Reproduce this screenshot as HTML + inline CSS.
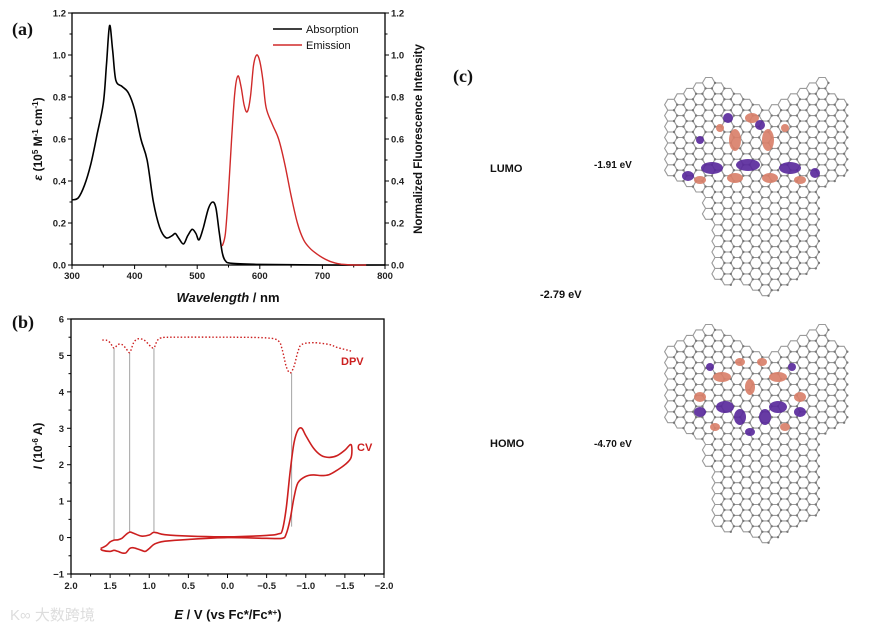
<!DOCTYPE html>
<html><head><meta charset="utf-8"><style>
body{margin:0;background:#fff;}
svg text{font-family:"Liberation Sans",Arial,sans-serif;}
svg text.serif{font-family:"Liberation Serif",serif;}
</style></head><body>
<svg id="fig" width="869" height="628" viewBox="0 0 869 628" xmlns="http://www.w3.org/2000/svg">
<g id="pa"></g>
<g id="pb"></g>
<g id="pc"></g>
<text x="10" y="620" font-size="15" fill="#ddd" style="font-family:'Liberation Sans','Noto Sans CJK SC',sans-serif">K∞ 大数跨境</text>
</svg>
<script>
// ---- panel a data ----
const absWl=[300,310,320,330,340,350,355,360,365,370,380,390,400,410,420,430,440,450,460,465,470,478,485,492,498,503,510,518,525,530,535,540,545,555,600,700,800];
const absVal=[0.31,0.32,0.38,0.48,0.62,0.77,0.95,1.14,1.02,0.88,0.85,0.82,0.74,0.60,0.50,0.30,0.18,0.13,0.14,0.15,0.13,0.10,0.14,0.17,0.15,0.12,0.18,0.27,0.30,0.27,0.16,0.06,0.02,0.008,0.003,0,0];
const emWl=[540,545,550,555,560,565,570,575,580,585,590,595,600,605,610,620,630,640,650,660,670,680,690,700,710,720,730,750,770];
const emVal=[0.09,0.15,0.35,0.60,0.82,0.90,0.85,0.76,0.73,0.80,0.95,1.0,0.97,0.88,0.75,0.67,0.60,0.48,0.33,0.20,0.12,0.08,0.055,0.035,0.02,0.01,0.004,0,0];
const aXTicks=[300,400,500,600,700,800];
const aYTicks=[0,0.2,0.4,0.6,0.8,1.0,1.2];
// ---- panel b data ----
const cvE=[1.62,1.55,1.5,1.45,1.4,1.35,1.3,1.25,1.2,1.1,1.0,0.95,0.9,0.8,0.5,0,-0.5,-0.65,-0.7,-0.75,-0.8,-0.85,-0.9,-0.95,-1.0,-1.1,-1.2,-1.3,-1.4,-1.5,-1.58,-1.58,-1.5,-1.4,-1.3,-1.2,-1.1,-1.0,-0.9,-0.85,-0.8,-0.75,-0.7,-0.5,0,0.5,0.8,0.9,0.95,1.0,1.05,1.1,1.2,1.25,1.3,1.35,1.4,1.45,1.5,1.6,1.62];
const cvI=[-0.3,-0.22,-0.12,-0.07,-0.06,-0.02,0.08,0.15,0.12,0.04,0.07,0.14,0.13,0.08,0.04,0.02,0.06,0.1,0.2,0.8,1.8,2.6,2.95,3.0,2.8,2.45,2.25,2.2,2.25,2.4,2.55,2.2,2.0,1.85,1.73,1.7,1.72,1.68,1.5,1.1,0.5,0.1,-0.02,-0.02,0,-0.05,-0.1,-0.15,-0.2,-0.3,-0.38,-0.35,-0.28,-0.3,-0.42,-0.42,-0.38,-0.35,-0.38,-0.35,-0.3];
const dpvE=[1.6,1.55,1.5,1.45,1.4,1.35,1.3,1.25,1.2,1.15,1.1,1.05,0.95,0.9,0.85,0.7,0,-0.5,-0.65,-0.7,-0.75,-0.8,-0.85,-0.9,-0.95,-1.1,-1.3,-1.4,-1.58];
const dpvI=[5.42,5.42,5.35,5.2,5.3,5.3,5.2,5.08,5.35,5.45,5.45,5.4,5.2,5.4,5.48,5.5,5.5,5.48,5.4,5.15,4.7,4.52,4.7,5.1,5.3,5.35,5.3,5.22,5.12];
const peakE=[1.45,1.25,0.94,-0.82];
const peakTop=[5.2,5.08,5.2,4.52];
const peakBot=[-0.07,0.15,0.14,0.3];
const bXTicks=[2.0,1.5,1.0,0.5,0.0,-0.5,-1.0,-1.5,-2.0];
const bYTicks=[-1,0,1,2,3,4,5,6];

const NS="http://www.w3.org/2000/svg";
function mk(p,t,a){const e=document.createElementNS(NS,t);for(const k in a)e.setAttribute(k,a[k]);p.appendChild(e);return e;}
function txt(p,x,y,s,a){const e=mk(p,'text',Object.assign({x:x,y:y},a));e.textContent=s;return e;}
function fmtNum(v,d){return (v<0?'−':'')+Math.abs(v).toFixed(d);}
function smooth(pts){let d='M'+pts[0][0].toFixed(1)+','+pts[0][1].toFixed(1);
 for(let i=0;i<pts.length-1;i++){const p0=pts[Math.max(0,i-1)],p1=pts[i],p2=pts[i+1],p3=pts[Math.min(pts.length-1,i+2)];
  const c1=[p1[0]+(p2[0]-p0[0])/6,p1[1]+(p2[1]-p0[1])/6],c2=[p2[0]-(p3[0]-p1[0])/6,p2[1]-(p3[1]-p1[1])/6];
  d+='C'+c1[0].toFixed(1)+','+c1[1].toFixed(1)+' '+c2[0].toFixed(1)+','+c2[1].toFixed(1)+' '+p2[0].toFixed(1)+','+p2[1].toFixed(1);}
 return d;}

// ===== Panel A =====
const A=document.getElementById('pa');
const ax0=72,ax1=385,ay0=265,ay1=13;
const axX=w=>ax0+(w-300)/500*(ax1-ax0);
const axY=v=>ay0-(v/1.2)*(ay0-ay1);
let r=mk(A,'rect',{x:ax0,y:ay1,width:ax1-ax0,height:ay0-ay1,fill:'none',stroke:'#000','stroke-width':1.3});

aXTicks.forEach((t,i)=>{const x=axX(t);mk(A,'line',{x1:x,x2:x,y1:ay0,y2:ay0+4,stroke:'#000'});
 if(i<aXTicks.length-1){const xm=axX(t+50);mk(A,'line',{x1:xm,x2:xm,y1:ay0,y2:ay0+2.5,stroke:'#000'});}
 const l=txt(A,x,ay0+14,String(t),{'font-size':9.5,'font-weight':'bold','text-anchor':'middle',fill:'#222'});
 });
aYTicks.forEach((t,i)=>{const y=axY(t);
 mk(A,'line',{x1:ax0,x2:ax0-4,y1:y,y2:y,stroke:'#000'});mk(A,'line',{x1:ax1,x2:ax1+4,y1:y,y2:y,stroke:'#000'});
 if(i<aYTicks.length-1){const ym=axY(t+0.1);mk(A,'line',{x1:ax0,x2:ax0-2.5,y1:ym,y2:ym,stroke:'#000'});mk(A,'line',{x1:ax1,x2:ax1+2.5,y1:ym,y2:ym,stroke:'#000'});}
 const l=txt(A,ax0-6,y+3.5,t.toFixed(1),{'font-size':9.5,'font-weight':'bold','text-anchor':'end',fill:'#222'});
 
 const l2=txt(A,ax1+6,y+3.5,t.toFixed(1),{'font-size':9.5,'font-weight':'bold',fill:'#222'});
 });
let e1=mk(A,'path',{d:smooth(absWl.map((w,i)=>[axX(w),axY(absVal[i])])),fill:'none',stroke:'#000','stroke-width':1.6,'stroke-linejoin':'round'});

let e2=mk(A,'path',{d:smooth(emWl.map((w,i)=>[axX(w),axY(emVal[i])])),fill:'none',stroke:'#d02a2a','stroke-width':1.4,'stroke-linejoin':'round'});

mk(A,'line',{x1:273,x2:302,y1:29,y2:29,stroke:'#000','stroke-width':1.6});
let lg1=txt(A,306,33,'Absorption',{'font-size':11,fill:'#111'});
mk(A,'line',{x1:273,x2:302,y1:45,y2:45,stroke:'#d02a2a','stroke-width':1.4});
let lg2=txt(A,306,49,'Emission',{'font-size':11,fill:'#111'});
let xt=txt(A,228,302,'',{'font-size':13,'font-weight':'bold','text-anchor':'middle',fill:'#111'});
xt.innerHTML='<tspan font-style="italic">Wavelength</tspan> / nm';
let yt=txt(A,0,0,'',{'font-size':12,'font-weight':'bold','text-anchor':'middle',fill:'#111',transform:'translate(42,139) rotate(-90)'});
yt.innerHTML='<tspan font-style="italic">ε</tspan> (10<tspan baseline-shift="super" font-size="8">5</tspan> M<tspan baseline-shift="super" font-size="8">-1</tspan> cm<tspan baseline-shift="super" font-size="8">-1</tspan>)';

let yt2=txt(A,0,0,'Normalized Fluorescence Intensity',{'font-size':11.5,'font-weight':'bold','text-anchor':'middle',fill:'#111',transform:'translate(422,139) rotate(-90)'});

let la=txt(A,12,35,'(a)',{'font-size':18,'font-weight':'bold',fill:'#111','class':'serif'});


// ===== Panel B =====
const B=document.getElementById('pb');
const bx0=71,bx1=384,by0=574,by1=319;
const bX=e=>bx0+(2-e)/4*(bx1-bx0);
const bY=v=>by0-(v+1)/7*(by0-by1);
let rb=mk(B,'rect',{x:bx0,y:by1,width:bx1-bx0,height:by0-by1,fill:'none',stroke:'#000','stroke-width':1.3});

bXTicks.forEach((t,i)=>{const x=bX(t);mk(B,'line',{x1:x,x2:x,y1:by0,y2:by0+4,stroke:'#000'});
 if(i<bXTicks.length-1){const xm=bX(t-0.25);mk(B,'line',{x1:xm,x2:xm,y1:by0,y2:by0+2.5,stroke:'#000'});}
 const l=txt(B,x,by0+15,fmtNum(t,1),{'font-size':9.5,'font-weight':'bold','text-anchor':'middle',fill:'#222'});
 });
bYTicks.forEach((t,i)=>{const y=bY(t);mk(B,'line',{x1:bx0,x2:bx0-4,y1:y,y2:y,stroke:'#000'});
 if(i<bYTicks.length-1){const ym=bY(t+0.5);mk(B,'line',{x1:bx0,x2:bx0-2.5,y1:ym,y2:ym,stroke:'#000'});}
 const l=txt(B,bx0-7,y+3.5,fmtNum(t,0),{'font-size':9.5,'font-weight':'bold','text-anchor':'end',fill:'#222'});
 });
peakE.forEach((e,i)=>{const g=mk(B,'line',{x1:bX(e),x2:bX(e),y1:bY(peakTop[i]),y2:bY(peakBot[i]),stroke:'#999','stroke-width':0.9});
 });
let c1=mk(B,'path',{d:smooth(cvE.map((e,i)=>[bX(e),bY(cvI[i])])),fill:'none',stroke:'#cc1f1f','stroke-width':1.6,'stroke-linejoin':'round'});

let c2=mk(B,'path',{d:smooth(dpvE.map((e,i)=>[bX(e),bY(dpvI[i])])),fill:'none',stroke:'#cc1f1f','stroke-width':1.4,'stroke-dasharray':'1.5,2'});

let d1=txt(B,341,365,'DPV',{'font-size':11,'font-weight':'bold',fill:'#cc1f1f'});
let d2=txt(B,357,451,'CV',{'font-size':11,'font-weight':'bold',fill:'#cc1f1f'});
let bxt=txt(B,228,619,'',{'font-size':13,'font-weight':'bold','text-anchor':'middle',fill:'#111'});
bxt.innerHTML='<tspan font-style="italic">E</tspan> / V (vs Fc*/Fc*<tspan baseline-shift="super" font-size="8">+</tspan>)';

let byt=txt(B,0,0,'',{'font-size':12,'font-weight':'bold','text-anchor':'middle',fill:'#111',transform:'translate(42,446) rotate(-90)'});
byt.innerHTML='<tspan font-style="italic">I</tspan> (10<tspan baseline-shift="super" font-size="8">-6</tspan> A)';

let lb=txt(B,12,328,'(b)',{'font-size':18,'font-weight':'bold',fill:'#111','class':'serif'});


// ===== Panel C =====
const C=document.getElementById('pc');
function lab(x,y,s,name,sz,extra){const t=txt(C,x,y,s,Object.assign({'font-size':sz,'font-weight':'bold',fill:'#111'},extra||{}));}
lab(453,82,'(c)','panel-label-c',18,{'class':'serif'});
lab(490,172,'LUMO','lumo-label',11);
lab(594,168,'-1.91 eV','lumo-energy',10);
lab(540,298,'-2.79 eV','gap-energy',11);
lab(490,447,'HOMO','homo-label',11);
lab(594,447,'-4.70 eV','homo-energy',10);
function inPoly(x,y,p){let c=false;for(let i=0,j=p.length-1;i<p.length;j=i++){const a=p[i],b=p[j];if(((a[1]>y)!=(b[1]>y))&&(x<(b[0]-a[0])*(y-a[1])/(b[1]-a[1])+a[0]))c=!c;}return c;}
function molecule(dy,name,orbs){
 const g=mk(C,'g',{});
 const poly=[[662,100],[700,80],[745,95],[765,105],[790,95],[825,80],[848,110],[845,170],[815,195],[815,270],[765,298],[712,272],[707,195],[662,170]].map(p=>[p[0],p[1]+dy]);
 const R=6.3,h=R*Math.sqrt(3);let d='';let dots='';
 for(let col=0;col<24;col++)for(let row=0;row<24;row++){
  const cx=652+col*1.5*R,cy=72+dy+row*h+(col%2?h/2:0);
  if(!inPoly(cx,cy,poly))continue;
  for(let k=0;k<6;k++){const a=k*Math.PI/3;const px=cx+R*Math.cos(a),py=cy+R*Math.sin(a);d+=(k?'L':'M')+px.toFixed(1)+','+py.toFixed(1);
   if(k<2)dots+='M'+px.toFixed(1)+','+py.toFixed(1)+'h0.01';}d+='Z';}
 mk(g,'path',{d:d,fill:'none',stroke:'#9a9a9a','stroke-width':1.1});
 mk(g,'path',{d:dots,fill:'none',stroke:'#777','stroke-width':2.4,'stroke-linecap':'round'});
 orbs.forEach(o=>{mk(g,'ellipse',{cx:o[0],cy:o[1]+dy,rx:o[2],ry:o[3],fill:o[4],opacity:0.92});});
}
const P='#5a2a9c',O='#d9806a';
molecule(0,'lumo-orbital-image',[[748,165,12,6,P],[712,168,11,6,P],[790,168,11,6,P],[735,140,6,11,O],[768,140,6,11,O],[752,118,7,5,O],[735,178,8,5,O],[770,178,8,5,O],[688,176,6,5,P],[815,173,5,5,P],[700,180,6,4,O],[800,180,6,4,O],[728,118,5,5,P],[760,125,5,5,P],[700,140,4,4,P],[720,128,4,4,O],[785,128,4,4,O]]);
molecule(247,'homo-orbital-image',[[750,140,5,8,O],[722,130,9,5,O],[778,130,9,5,O],[725,160,9,6,P],[778,160,9,6,P],[740,170,6,8,P],[765,170,6,8,P],[700,150,6,5,O],[800,150,6,5,O],[700,165,6,5,P],[800,165,6,5,P],[750,185,5,4,P],[710,120,4,4,P],[792,120,4,4,P],[740,115,5,4,O],[762,115,5,4,O],[715,180,5,4,O],[785,180,5,4,O]]);
</script>
</body></html>
